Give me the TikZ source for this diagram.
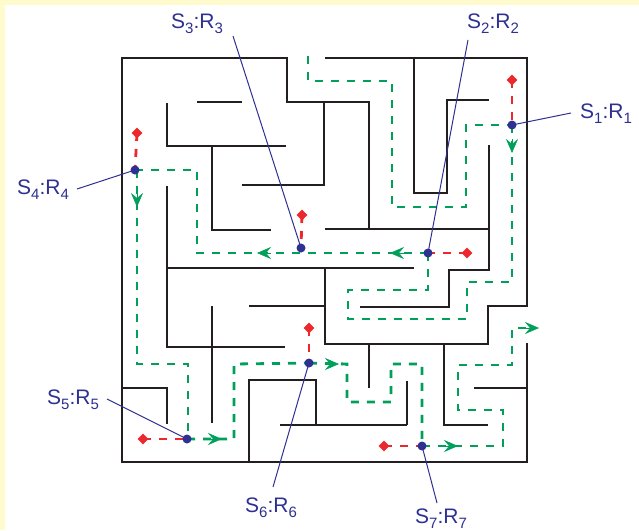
\documentclass[tikz,border=0pt]{standalone}
\usepackage{fontspec}
\setmainfont{Liberation Sans}
\usetikzlibrary{arrows.meta,shapes.geometric}
\definecolor{wallc}{RGB}{35,31,32}
\definecolor{pathg}{RGB}{0,160,90}
\definecolor{pathr}{RGB}{237,40,45}
\definecolor{dotb}{RGB}{46,49,146}
\definecolor{bgy}{RGB}{255,251,204}
\newcommand\subx[1]{\raisebox{-5.5pt}{\fontsize{15}{15}\selectfont #1}}
\newcommand\SR[1]{S\subx{#1}:R\subx{#1}}
\begin{document}
\begin{tikzpicture}[x=1pt,y=-1pt,
  wall/.style={draw=wallc, line width=2.8pt},
  gpath/.style={draw=pathg, line width=2.8pt, dash pattern=on 8pt off 8pt},
  rpath/.style={draw=pathr, line width=2.8pt, dash pattern=on 8pt off 8pt},
  garrow/.style={draw=pathg, fill=pathg, solid, line width=0.5pt, -{Stealth[length=14pt,width=12pt,inset=5pt]}},
  leader/.style={draw=dotb, line width=1pt},
  lbl/.style={text=dotb, inner sep=0pt, anchor=base west, font=\fontsize{21}{25}\selectfont},
  dotnode/.style={circle, fill=dotb, minimum size=9pt, inner sep=0pt},
  dianode/.style={diamond, fill=pathr, minimum size=11pt, inner sep=0pt},
  ]
\fill[bgy] (0,0) rectangle (639,530);
\fill[white] (4.5,5) rectangle (639,530);
\useasboundingbox (0,0) rectangle (639,530);

% walls
\draw[wall] (369,229) -- (369,102) -- (287,102) -- (287,58) -- (122,58) -- (122,462) -- (527,462) -- (527,343);
\draw[wall] (325,58) -- (527,58) -- (527,306) -- (488,306) -- (488,344) -- (325,344) -- (325,268);
\draw[wall] (414,58) -- (414,193) -- (447,193) -- (447,100) -- (489,100);
\draw[wall] (489,145) -- (489,270) -- (449,270) -- (449,307) -- (360,307);
\draw[wall] (325,229) -- (489,229);
\draw[wall] (167,268) -- (414,268);
\draw[wall] (249,306) -- (325,306);
\draw[wall] (197,102) -- (242,102);
\draw[wall] (167,103) -- (167,146) -- (286,146);
\draw[wall] (212,146) -- (212,230) -- (271,230);
\draw[wall] (167,186) -- (167,347) -- (285,347);
\draw[wall] (242,185) -- (324,185) -- (324,102);
\draw[wall] (212,306) -- (212,423);
\draw[wall] (122,388) -- (167,388) -- (167,424);
\draw[wall] (249,462) -- (249,380) -- (316,380) -- (316,425);
\draw[wall] (280,425) -- (407,425);
\draw[wall] (407,381) -- (407,425);
\draw[wall] (369,344) -- (369,388);
\draw[wall] (444,344) -- (444,425) -- (488,425);
\draw[wall] (474,388) -- (527,388);

% named points
\coordinate (c1) at (512,125);
\coordinate (c2) at (428,253);
\coordinate (c3) at (301,248);
\coordinate (c4) at (135,170);
\coordinate (c5) at (187,439);
\coordinate (c6) at (309,363);
\coordinate (c7) at (422,446);
\coordinate (d1) at (512,80);
\coordinate (d2) at (467,253);
\coordinate (d3) at (302,215);
\coordinate (d4) at (137,133);
\coordinate (d5) at (143,439);
\coordinate (d6) at (309,328);
\coordinate (d7) at (384,446);
\coordinate (entry) at (308,56);
\coordinate (exit) at (539,328);

% green paths
\draw[gpath] (entry) -- (308,81) -- (392,81) -- (392,207) -- (466,207) -- (466,125) -- (c1);
\draw[gpath] (c1) -- (512,282) -- (467,282) -- (467,319) -- (348,319) -- (348,290) -- (428,290) -- (c2);
\draw[gpath] (c2) -- (197,253) -- (197,170) -- (c4);
\draw[gpath] (137,170) -- (137,364) -- (188,364) -- (188,439) -- (c5);
\draw[gpath] (c5) -- (234,439) -- (234,364) -- (c6);
\draw[gpath] (c6) -- (347,364) -- (347,402) -- (391,402) -- (391,364) -- (422,364) -- (c7);
\draw[gpath] (c7) -- (503,446) -- (503,410) -- (458,410) -- (458,365) -- (512,365) -- (512,328) -- (527,328);
% arrow heads
\draw[garrow] (512,139) -- (512,153);
\draw[garrow] (137,193) -- (137,207);
\draw[garrow] (404,253) -- (390,253);
\draw[garrow] (271,253) -- (257,253);
\draw[garrow] (208,439) -- (222,439);
\draw[garrow] (325,364) -- (339,364);
\draw[garrow] (444,446) -- (458,446);
\draw[garrow] (525,328) -- (exit);

% red paths
\foreach \i in {1,...,7} {\draw[rpath] (d\i) -- (c\i);}

% labels
\node[lbl] (l1) at (580,118) {\SR{1}};
\node[lbl] (l2) at (467,28) {\SR{2}};
\node[lbl] (l3) at (171,28) {\SR{3}};
\node[lbl] (l4) at (17,194) {\SR{4}};
\node[lbl] (l5) at (47,404) {\SR{5}};
\node[lbl] (l6) at (245,512) {\SR{6}};
\node[lbl] (l7) at (415,523) {\SR{7}};
\coordinate (e1) at (571,113);
\coordinate (e2) at (468,40);
\coordinate (e3) at (233,36);
\coordinate (e4) at (77,189);
\coordinate (e5) at (107,399);
\coordinate (e6) at (273,487);
\coordinate (e7) at (437,503);
\foreach \i in {1,...,7} {\draw[leader] (e\i) -- (c\i);}

% markers
\foreach \i in {1,...,7} {
  \node[dianode] (r\i) at (d\i) {};
  \node[dotnode] (s\i) at (c\i) {};
}
\end{tikzpicture}
\end{document}
